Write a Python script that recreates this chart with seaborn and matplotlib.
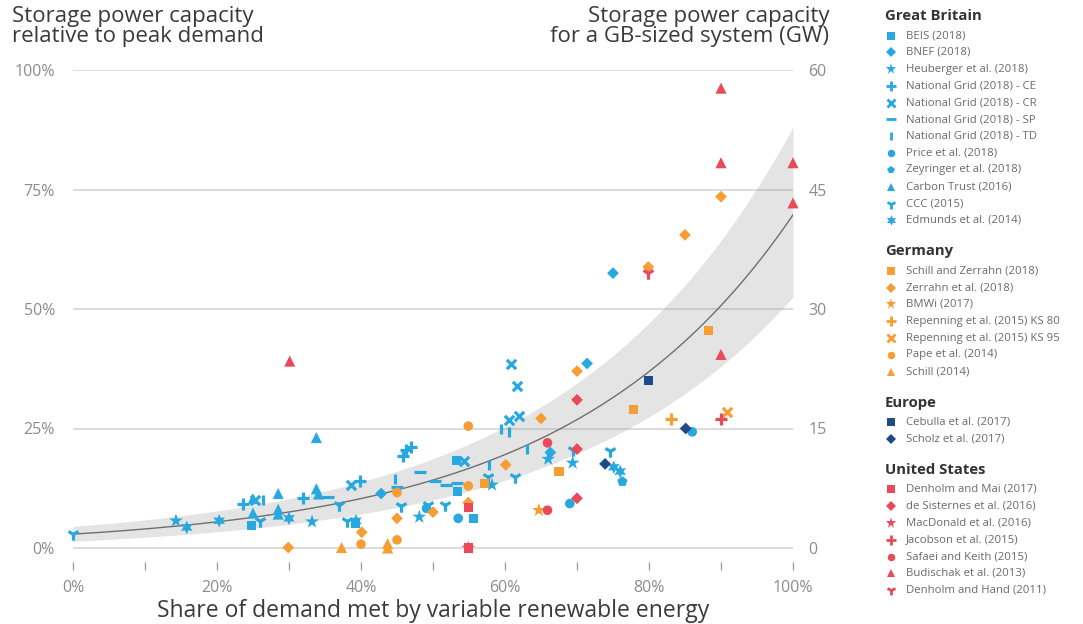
import numpy as np
import matplotlib
matplotlib.use("Agg")
import matplotlib.pyplot as plt
import seaborn as sns
from matplotlib.ticker import MultipleLocator, FuncFormatter

# ---------------- data (x: share of VRE in %, y: storage power / peak demand in %) ----
# Great Britain
beis_x = [24.8, 39.3, 53.2, 53.4, 55.6]
beis_y = [4.8, 5.2, 18.3, 11.8, 6.2]
bnef_x = [42.8, 66.3, 71.4, 75.0]
bnef_y = [11.4, 20.0, 38.6, 57.5]
heuberger_x = [14.3, 33.2, 48.1, 58.2, 66.0, 69.4]
heuberger_y = [5.7, 5.5, 6.5, 13.2, 18.6, 17.8]
ng_ce_x = [23.6, 32.0, 39.9, 45.9, 46.3, 47.0]
ng_ce_y = [9.3, 10.4, 14.1, 19.2, 20.6, 21.2]
ng_cr_x = [25.3, 38.6, 54.3, 60.6, 61.9, 61.7, 60.8]
ng_cr_y = [10.0, 13.1, 18.3, 26.8, 27.7, 33.8, 38.5]
ng_sp_x = [35.4, 45.0, 48.2, 50.3, 51.8, 53.3]
ng_sp_y = [10.7, 12.7, 16.0, 14.1, 13.1, 13.5]
ng_td_x = [26.4, 44.7, 57.8, 59.4, 60.6, 63.1]
ng_td_y = [10.0, 14.4, 17.4, 24.9, 24.2, 20.7]
price_x = [49.1, 53.5, 69.0, 86.0]
price_y = [8.3, 6.2, 9.3, 24.3]
zeyringer_x = [76.3]
zeyringer_y = [13.9]
carbontrust_x = [25.0, 25.0, 28.5, 28.5, 28.5, 33.8, 33.8, 34.1]
carbontrust_y = [10.3, 7.3, 11.4, 8.1, 7.1, 23.1, 12.4, 11.3]
ccc_x = [0.0, 26.0, 36.9, 38.0, 45.6, 49.3, 51.7, 57.7, 61.4, 69.5, 74.6]
ccc_y = [2.9, 5.7, 8.9, 5.7, 8.8, 9.0, 8.9, 14.8, 14.8, 20.5, 20.3]
edmunds_x = [15.8, 20.3, 30.0, 39.3, 75.1, 76.0]
edmunds_y = [4.3, 5.7, 6.2, 5.7, 16.9, 16.0]
# Germany
schill_zerrahn_x = [57.2, 67.5, 77.8, 88.3]
schill_zerrahn_y = [13.5, 16.0, 29.0, 45.4]
zerrahn_x = [29.9, 40.1, 45.0, 50.0, 54.9, 60.1, 65.0, 70.0, 79.9, 85.0, 90.0]
zerrahn_y = [0.1, 3.3, 6.2, 7.5, 9.5, 17.4, 27.1, 37.0, 58.8, 65.5, 73.5]
bmwi_x = [64.7]
bmwi_y = [7.9]
rep80_x = [83.1]
rep80_y = [26.9]
rep95_x = [90.8]
rep95_y = [28.5]
pape_x = [40.0, 45.0, 45.0, 54.9, 54.9]
pape_y = [0.8, 1.7, 11.6, 13.0, 25.5]
schill_x = [37.3, 43.7, 43.7]
schill_y = [0.1, 0.9, 0.0]
# Europe
cebulla_x = [79.9]
cebulla_y = [35.0]
scholz_x = [73.9, 85.1]
scholz_y = [17.6, 25.0]
# United States
denholm_mai_x = [54.9, 54.9]
denholm_mai_y = [8.5, 0.0]
sisternes_x = [70.0, 70.0, 70.0]
sisternes_y = [31.0, 20.7, 10.4]
macdonald_x = [54.9]
macdonald_y = [0.0]
jacobson_x = [90.0]
jacobson_y = [27.0]
safaei_x = [65.9, 65.9]
safaei_y = [22.0, 7.9]
budischak_x = [30.1, 90.0, 90.0, 90.0, 100.0, 100.0]
budischak_y = [39.1, 96.2, 80.6, 40.5, 80.6, 72.2]
denholm_hand_x = [79.9]
denholm_hand_y = [57.5]

# exponential trend fitted in the source, and its shaded range
fit_start = 2.9      # % at 0 % VRE
fit_end = 69.7       # % at 100 % VRE
band_up_scale, band_up_add = 1.251, 0.9
band_lo_scale, band_lo_add = 0.765, -0.8

x_ticks = [0, 20, 40, 60, 80, 100]
y_ticks = [0, 25, 50, 75, 100]
gw_ticks = [0, 15, 30, 45, 60]
GW_AT_100 = 60

# ---------------- styles ----------------
BLUE = "#27A8E0"
ORANGE = "#F79D34"
NAVY = "#1E4A87"
RED = "#E94A5A"
STAR6 = (6, 1, 0)

groups = [
    ("Great Britain", BLUE, [
        ("BEIS (2018)", "s", beis_x, beis_y),
        ("BNEF (2018)", "D", bnef_x, bnef_y),
        ("Heuberger et al. (2018)", "*", heuberger_x, heuberger_y),
        ("National Grid (2018) - CE", "+", ng_ce_x, ng_ce_y),
        ("National Grid (2018) - CR", "x", ng_cr_x, ng_cr_y),
        ("National Grid (2018) - SP", "_", ng_sp_x, ng_sp_y),
        ("National Grid (2018) - TD", "|", ng_td_x, ng_td_y),
        ("Price et al. (2018)", "o", price_x, price_y),
        ("Zeyringer et al. (2018)", "p", zeyringer_x, zeyringer_y),
        ("Carbon Trust (2016)", "^", carbontrust_x, carbontrust_y),
        ("CCC (2015)", "1", ccc_x, ccc_y),
        ("Edmunds et al. (2014)", STAR6, edmunds_x, edmunds_y),
    ]),
    ("Germany", ORANGE, [
        ("Schill and Zerrahn (2018)", "s", schill_zerrahn_x, schill_zerrahn_y),
        ("Zerrahn et al. (2018)", "D", zerrahn_x, zerrahn_y),
        ("BMWi (2017)", "*", bmwi_x, bmwi_y),
        ("Repenning et al. (2015) KS 80", "+", rep80_x, rep80_y),
        ("Repenning et al. (2015) KS 95", "x", rep95_x, rep95_y),
        ("Pape et al. (2014)", "o", pape_x, pape_y),
        ("Schill (2014)", "^", schill_x, schill_y),
    ]),
    ("Europe", NAVY, [
        ("Cebulla et al. (2017)", "s", cebulla_x, cebulla_y),
        ("Scholz et al. (2017)", "D", scholz_x, scholz_y),
    ]),
    ("United States", RED, [
        ("Denholm and Mai (2017)", "s", denholm_mai_x, denholm_mai_y),
        ("de Sisternes et al. (2016)", "D", sisternes_x, sisternes_y),
        ("MacDonald et al. (2016)", "*", macdonald_x, macdonald_y),
        ("Jacobson et al. (2015)", "+", jacobson_x, jacobson_y),
        ("Safaei and Keith (2015)", "o", safaei_x, safaei_y),
        ("Budischak et al. (2013)", "^", budischak_x, budischak_y),
        ("Denholm and Hand (2011)", "1", denholm_hand_x, denholm_hand_y),
    ]),
]

LINE_MARKERS = {"+", "x", "_", "|", "1"}
SIZES = {"s": 42, "D": 36, "*": 110, "+": 70, "x": 45, "_": 70, "|": 60,
         "o": 48, "p": 60, "^": 64, "1": 80, STAR6: 95}

def msize(m):
    return SIZES[m]

sns.set_theme(style="white")
FONT = ["Open Sans", "DejaVu Sans"]
plt.rcParams["font.family"] = FONT

W, H = 1083, 624
fig = plt.figure(figsize=(W / 100, H / 100), dpi=100)

# axes box in pixels: x 73..793, y(100%) at 70, bottom edge at 562
y_bottom = -(562 - 548) / 4.78
ax = fig.add_axes([73 / W, (H - 562) / H, (793 - 73) / W, (562 - 70) / H])
ax.set_xlim(0, 100)
ax.set_ylim(y_bottom, 100)

# trend curve + range
xs = np.linspace(0, 100, 201)
curve = fit_start * (fit_end / fit_start) ** (xs / 100)
upper = curve * band_up_scale + band_up_add
lower = curve * band_lo_scale + band_lo_add
ax.fill_between(xs, lower, upper, color="#9a9a9a", alpha=0.26, linewidth=0, zorder=1)
sns.lineplot(x=xs, y=curve, color="#6f6f6f", linewidth=1.0, ax=ax, zorder=2)

for gname, col, items in groups:
    for label, m, xv, yv in items:
        if m in LINE_MARKERS:
            sns.scatterplot(x=xv, y=yv, marker=m, color=col, s=msize(m),
                            linewidth=2.3, ax=ax, zorder=3, clip_on=False)
        else:
            sns.scatterplot(x=xv, y=yv, marker=m, color=col, s=msize(m),
                            linewidth=0, edgecolor="none", ax=ax, zorder=3,
                            clip_on=False)

# grid / axes styling
for s in ax.spines.values():
    s.set_visible(False)
ax.set_axisbelow(True)
ax.yaxis.set_major_locator(plt.FixedLocator(y_ticks))
ax.grid(axis="y", color="#d9d9d9", linewidth=1.3)
ax.grid(axis="x", visible=False)
ax.yaxis.set_major_formatter(FuncFormatter(lambda v, p: f"{v:.0f}%"))
ax.xaxis.set_major_locator(plt.FixedLocator(x_ticks))
ax.xaxis.set_minor_locator(MultipleLocator(10))
ax.xaxis.set_major_formatter(FuncFormatter(lambda v, p: f"{v:.0f}%"))
ax.tick_params(axis="x", which="both", direction="out", length=6, width=1,
               color="#a0a0a0", pad=7, labelsize=11.5, labelcolor="#8c8c8c",
               bottom=True)
ax.tick_params(axis="y", length=0, pad=13, labelsize=11.5, labelcolor="#8c8c8c")
ax.set_xlabel("Share of demand met by variable renewable energy",
              fontsize=16.5, color="#3a3a3a", labelpad=2)
ax.set_ylabel("")

ax2 = ax.twinx()
ax2.set_ylim(y_bottom * GW_AT_100 / 100, GW_AT_100)
ax2.yaxis.set_major_locator(plt.FixedLocator(gw_ticks))
ax2.tick_params(axis="y", length=0, pad=11, labelsize=11.5, labelcolor="#8c8c8c")
for s in ax2.spines.values():
    s.set_visible(False)
ax2.grid(False)

fig.text(12 / W, 1 - 6 / H, "Storage power capacity\nrelative to peak demand",
         ha="left", va="top", fontsize=16, color="#3a3a3a", linespacing=0.95)
fig.text(829 / W, 1 - 6 / H, "Storage power capacity\nfor a GB-sized system (GW)",
         ha="right", va="top", fontsize=16, color="#3a3a3a", linespacing=0.95,
         multialignment="right")

# legend panel
lax = fig.add_axes([0, 0, 1, 1])
lax.set_xlim(0, W)
lax.set_ylim(H, 0)
lax.axis("off")
lax.patch.set_visible(False)
yy = 16
for gname, col, items in groups:
    lax.text(885, yy, gname, fontsize=10.7, fontweight="bold", color="#333333",
             va="center", ha="left")
    yy += 19.5
    for label, m, xv, yv in items:
        lw = 2.0 if m in LINE_MARKERS else 0
        ms = np.sqrt(msize(m)) * 0.78
        lax.plot([890.5], [yy], linestyle="none", marker=m, color=col,
                 markersize=ms, markeredgewidth=lw, clip_on=False)
        lax.text(906, yy, label, fontsize=8.2, color="#6a6a6a", va="center", ha="left")
        yy += 16.8
    yy += 14.2

fig.savefig("out.png", dpi=100)
